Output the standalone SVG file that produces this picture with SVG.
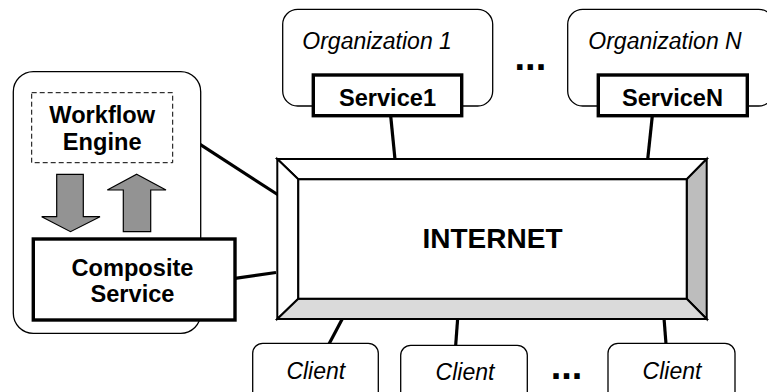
<svg xmlns="http://www.w3.org/2000/svg" width="767" height="392" viewBox="0 0 767 392">
<style>
.org{fill:#fff;stroke:#000;stroke-width:1.3}
.svc{fill:#fff;stroke:#000;stroke-width:3.4}
.it{font-family:"Liberation Sans",Arial,sans-serif;font-style:italic;font-size:23px;fill:#000}
.bd{font-family:"Liberation Sans",Arial,sans-serif;font-weight:bold;font-size:23.6px;fill:#000;text-anchor:middle}
.dots{font-family:"Liberation Sans",Arial,sans-serif;font-weight:bold;font-size:38px;fill:#000;text-anchor:middle}
.conn{stroke:#000;stroke-width:3.2;fill:none}
.bev{stroke:#000;stroke-width:2;stroke-linejoin:miter}
.arr{fill:#939393;stroke:#000;stroke-width:1.2}
</style>
<rect width="767" height="392" fill="#fff"/>
<g id="connectors">
<line class="conn" x1="172.7" y1="126.7" x2="278.3" y2="195"/>
<line class="conn" x1="235" y1="278.3" x2="276" y2="272.5"/>
<line class="conn" x1="390.7" y1="116" x2="395" y2="159.3"/>
<line class="conn" x1="652.3" y1="116" x2="647.7" y2="159.3"/>
<line class="conn" x1="343.3" y1="317" x2="329" y2="344"/>
<line class="conn" x1="457.7" y1="318" x2="455.7" y2="345"/>
<line class="conn" x1="664" y1="318" x2="666" y2="344"/>
</g>
<g id="composite-host">
<rect x="13.3" y="71.7" width="187.4" height="261.6" rx="20" class="org"/>
</g>
<g id="workflow-engine">
<rect x="31.7" y="92.7" width="141" height="70" fill="#fff" stroke="#000" stroke-width="1" stroke-dasharray="5,3"/>
<text class="bd" x="102.2" y="123.3">Workflow</text>
<text class="bd" x="102.2" y="150">Engine</text>
</g>
<g id="arrows">
<polygon class="arr" points="56.7,174.3 83.3,174.3 83.3,216.7 100,216.7 70.5,231.7 41.7,216.7 56.7,216.7"/>
<polygon class="arr" points="136.7,174.3 166,190 150.7,190 150.7,231.7 123.3,231.7 123.3,190 107.3,190"/>
</g>
<g id="composite-service">
<rect x="33.3" y="239" width="201.7" height="81" class="svc"/>
<text class="bd" x="132.5" y="276">Composite</text>
<text class="bd" x="132.5" y="301.7">Service</text>
</g>
<g id="organization-1">
<rect x="282.7" y="9.3" width="210" height="96.7" rx="15" class="org"/>
<text class="it" x="302.3" y="49">Organization 1</text>
</g>
<g id="service-1">
<rect x="313.3" y="75" width="148.4" height="40.7" class="svc"/>
<text class="bd" x="387.5" y="106">Service1</text>
</g>
<g id="organization-n">
<rect x="567.7" y="9.3" width="206" height="96.7" rx="15" class="org"/>
<text class="it" x="588.3" y="49">Organization N</text>
</g>
<g id="service-n">
<rect x="598.3" y="75" width="149" height="40.7" class="svc"/>
<text class="bd" x="672.5" y="106">ServiceN</text>
</g>
<g id="ellipsis-top">
<text class="dots" x="530.4" y="70">...</text>
</g>
<g id="internet">
<polygon class="bev" fill="#fff" points="277.3,159 706.7,159 686.7,179.3 298.3,179.3"/>
<polygon class="bev" fill="#fff" points="277.3,159 298.3,179.3 298.3,298.7 277.3,319"/>
<polygon class="bev" fill="#bdbdbd" points="706.7,159 706.7,319 686.7,298.7 686.7,179.3"/>
<polygon class="bev" fill="#dadada" points="277.3,319 298.3,298.7 686.7,298.7 706.7,319"/>
<rect x="298.3" y="179.3" width="388.4" height="119.4" fill="#fff" stroke="#000" stroke-width="2"/>
<text x="492.5" y="248" font-family="'Liberation Sans',Arial,sans-serif" font-weight="bold" font-size="28" text-anchor="middle">INTERNET</text>
</g>
<g id="client-1">
<rect x="252.7" y="343.3" width="125.6" height="60" rx="10" class="org"/>
<text class="it" x="315.8" y="379" text-anchor="middle">Client</text>
</g>
<g id="client-2">
<rect x="400.7" y="345.3" width="126.6" height="60" rx="10" class="org"/>
<text class="it" x="465" y="380" text-anchor="middle">Client</text>
</g>
<g id="client-3">
<rect x="608" y="343.3" width="127" height="60" rx="10" class="org"/>
<text class="it" x="672" y="379" text-anchor="middle">Client</text>
</g>
<g id="ellipsis-bottom">
<text class="dots" x="566.5" y="379">...</text>
</g>
</svg>
